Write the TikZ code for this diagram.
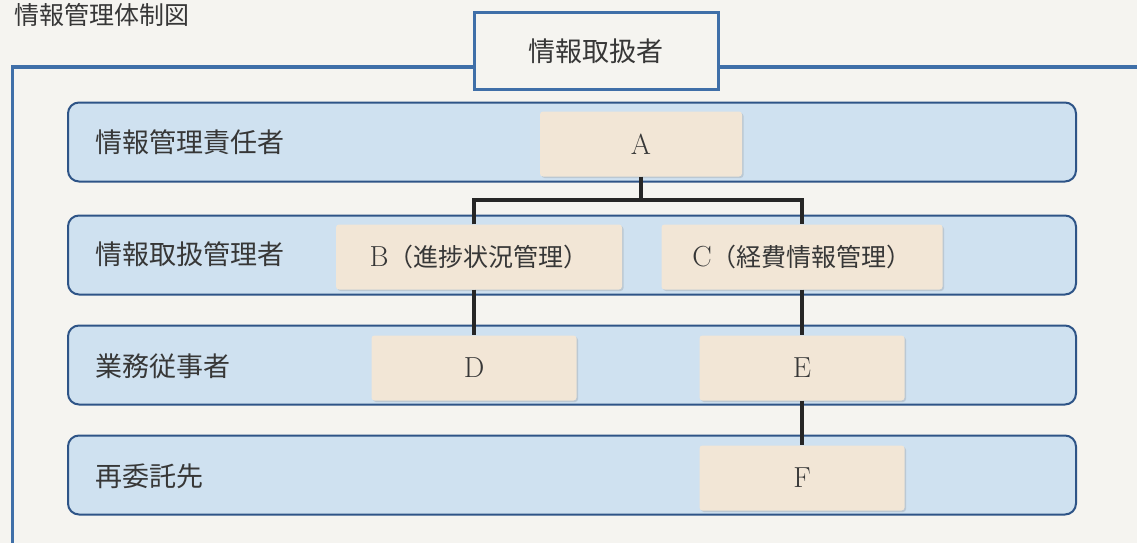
\documentclass[tikz,border=0pt]{standalone}
\usepackage{fontspec}
\newfontfamily\cjk{Noto Sans CJK JP}
\usepackage{tikz}
\usetikzlibrary{positioning,shadows}
\definecolor{paper}{RGB}{245,244,240}
\definecolor{rowblue}{RGB}{207,225,240}
\definecolor{rowedge}{RGB}{46,84,135}
\definecolor{frameblue}{RGB}{63,111,168}
\definecolor{beige}{RGB}{242,230,214}
\definecolor{ink}{RGB}{55,55,55}

\begin{document}
\begin{tikzpicture}[x=1pt,y=-1pt]
  \tikzstyle{row}=[draw=rowedge, line width=2pt, fill=rowblue, rounded corners=11pt, minimum width=1008pt, minimum height=79pt]
  \tikzstyle{rowlabel}=[anchor=west, text=ink, font=\cjk\fontsize{27}{31}\selectfont, inner sep=0pt]
  \tikzstyle{member}=[fill=beige, rounded corners=3pt, text=ink, font=\fontsize{29}{33}\selectfont, minimum height=65pt, drop shadow={shadow xshift=1.5pt, shadow yshift=-1.5pt, opacity=0.25}]
  \tikzstyle{link}=[line width=4pt, color=black!85]
  \newcommand{\cjkin}[1]{{\cjk\fontsize{25}{29}\selectfont #1}}
  \useasboundingbox (0,0) rectangle (1137,543);
  \fill[paper] (0,0) rectangle (1137,543);

  % title and outer frame
  \node[rowlabel, font=\cjk\fontsize{25}{29}\selectfont] (title) at (14,15) {情報管理体制図};
  \draw[frameblue, line width=3pt] (12,560) -- (12,67) -- (1150,67);
  \node[draw=frameblue, line width=3pt, fill=paper, minimum width=244pt, minimum height=76pt, text=ink, font=\cjk\fontsize{27}{31}\selectfont] (top) at (596,51) {情報取扱者};

  % rows
  \node[row] (R_1) at (572,142) {};
  \node[row] (R_2) at (572,255) {};
  \node[row] (R_3) at (572,365) {};
  \node[row] (R_4) at (572,475) {};
  \node[rowlabel] (L_1) at (95,142) {情報管理責任者};
  \node[rowlabel] (L_2) at (95,254) {情報取扱管理者};
  \node[rowlabel] (L_3) at (95,366) {業務従事者};
  \node[rowlabel] (L_4) at (95,476) {再委託先};

  % members
  \node[member, minimum width=202pt] (A) at (641,144) {A};
  \node[member, minimum width=286pt] (B) at (479,257) {B\cjkin{（進捗状況管理）}};
  \node[member, minimum width=281pt] (C) at (802,257) {C\cjkin{（経費情報管理）}};
  \node[member, minimum width=205pt] (D) at (474,368) {D};
  \node[member, minimum width=205pt] (E) at (802,368) {E};
  \node[member, minimum width=205pt] (F) at (802,478) {F};

  % links
  \coordinate (split) at (641,200);
  \draw[link] (A.south) -- (split);
  \draw[link] (D.north |- B.north) |- (split) -| (E.north |- C.north);
  \draw[link] (D.north |- B.south) -- (D.north);
  \draw[link] (C.south -| E.north) -- (E.north);
  \draw[link] (E.south) -- (F.north);
\end{tikzpicture}
\end{document}
